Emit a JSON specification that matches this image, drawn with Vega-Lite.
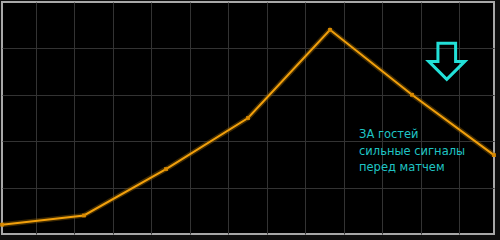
{
  "$schema": "https://vega.github.io/schema/vega-lite/v6.json",
  "width": 492,
  "height": 232,
  "autosize": {"type": "none"},
  "padding": {"left": 2, "top": 2, "right": 6, "bottom": 6},
  "background": "#0d0d0d",
  "config": {
    "view": {"fill": "#000000", "stroke": "#a8a8a8", "strokeWidth": 2},
    "axis": {"gridColor": "#333333", "gridWidth": 1, "gridOpacity": 1, "domain": false, "ticks": false, "labels": false, "minExtent": 0, "maxExtent": 0, "offset": 0}
  },
  "datasets": {
    "series": [
      {"step": 0, "value": 4},
      {"step": 1, "value": 8},
      {"step": 2, "value": 28},
      {"step": 3, "value": 50},
      {"step": 4, "value": 88},
      {"step": 5, "value": 60},
      {"step": 6, "value": 34}
    ],
    "arrow": [{"step": 5.424, "value": 74.4}],
    "note": [{"step": 4.354, "value": 41.2, "label": ["ЗА гостей", "сильные сигналы", "перед матчем"]}]
  },
  "layer": [
    {
      "data": {"name": "series"},
      "mark": {"type": "line", "color": "#8a5a00", "strokeWidth": 5, "opacity": 0.45},
      "encoding": {
        "x": {"field": "step", "type": "quantitative", "scale": {"domain": [0, 6], "nice": false, "zero": false},
          "axis": {"title": null, "grid": true, "values": [0.415, 0.884, 1.352, 1.821, 2.29, 2.759, 3.228, 3.697, 4.166, 4.635, 5.104, 5.573]}},
        "y": {"field": "value", "type": "quantitative", "scale": {"domain": [0, 100], "nice": false},
          "axis": {"title": null, "grid": true, "values": [20, 40, 60, 80]}}
      }
    },
    {
      "data": {"name": "series"},
      "mark": {"type": "line", "color": "#f2a00c", "strokeWidth": 2},
      "encoding": {
        "x": {"field": "step", "type": "quantitative", "title": null},
        "y": {"field": "value", "type": "quantitative", "title": null}
      }
    },
    {
      "data": {"name": "series"},
      "mark": {"type": "point", "shape": "square", "filled": true, "size": 14, "color": "#d98a00", "opacity": 1},
      "encoding": {
        "x": {"field": "step", "type": "quantitative", "title": null},
        "y": {"field": "value", "type": "quantitative", "title": null}
      }
    },
    {
      "data": {"name": "arrow"},
      "mark": {"type": "point", "shape": "M -0.49 -1 L 0.49 -1 L 0.49 0 L 1 0 L 0 1 L -1 0 L -0.49 0 Z", "filled": false, "stroke": "#22e0d8", "strokeWidth": 3, "size": 1300, "opacity": 1},
      "encoding": {
        "x": {"field": "step", "type": "quantitative", "title": null},
        "y": {"field": "value", "type": "quantitative", "title": null}
      }
    },
    {
      "data": {"name": "note"},
      "mark": {"type": "text", "align": "left", "baseline": "alphabetic", "font": "DejaVu Sans", "fontSize": 11.5, "lineHeight": 16.5, "color": "#1fc4c4"},
      "encoding": {
        "x": {"field": "step", "type": "quantitative", "title": null},
        "y": {"field": "value", "type": "quantitative", "title": null},
        "text": {"field": "label"}
      }
    }
  ]
}
